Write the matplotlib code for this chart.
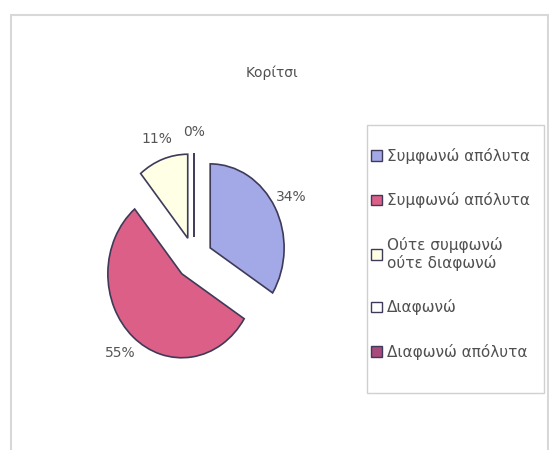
import matplotlib
matplotlib.use("Agg")
import matplotlib.pyplot as plt
from matplotlib.patches import Rectangle

title = "Κορίτσι"
categories = ["Συμφωνώ απόλυτα", "Συμφωνώ απόλυτα", "Ούτε συμφωνώ\nούτε διαφωνώ",
              "Διαφωνώ", "Διαφωνώ απόλυτα"]
values = [34, 55, 11, 0, 0]
colors = ["#a3a9e6", "#dc5f88", "#ffffe6", "#ffffff", "#a84a7c"]

W, H = 549, 450
XS = 0.88  # horizontal squeeze of the scanned pie
fig = plt.figure(figsize=(W / 100, H / 100), dpi=100)
fig.patch.set_facecolor("white")
ax = fig.add_axes([0, 0, 1, 1])
ax.set_xlim(0, W)
ax.set_ylim(0, H)
ax.axis("off")

# outer chart border
ax.add_patch(Rectangle((11, -5), 537, H - 15 + 5, fill=False, edgecolor="#d8d8d8", lw=1.5))
# legend frame
ax.add_patch(Rectangle((367, H - 393), 177, 268, fill=False, edgecolor="#d0d0d0", lw=1.0))

ax.text(272, H - 73, title, ha="center", va="center", fontsize=10, color="#505050")

pax = fig.add_axes([0, 0, 1, 1])
pax.patch.set_alpha(0)
r = 84
wedges, texts, autotexts = pax.pie(
    values, colors=colors, startangle=90, counterclock=False,
    center=(194 / XS, H - 258), radius=r, explode=[21] * len(values),
    autopct=lambda p: f"{p:.0f}%", pctdistance=1.25,
    wedgeprops=dict(edgecolor="#3e3a58", linewidth=1.2),
    textprops=dict(color="#555555", fontsize=10), frame=True)
autotexts[-1].set_visible(False)
pax.set_aspect("auto")
pax.set_xlim(0, W / XS)
pax.set_ylim(0, H)
pax.axis("off")

leg = ax.legend(wedges, categories, loc="upper left",
                bbox_to_anchor=(371 / W, 1 - 148 / H), borderaxespad=0,
                frameon=False, fontsize=11, labelspacing=1.85,
                handlelength=0.7, handleheight=0.7, handletextpad=0.35,
                borderpad=0, labelcolor="#505050")
for h in leg.legend_handles:
    h.set_linewidth(1.0)

fig.savefig("out.png", dpi=100)
